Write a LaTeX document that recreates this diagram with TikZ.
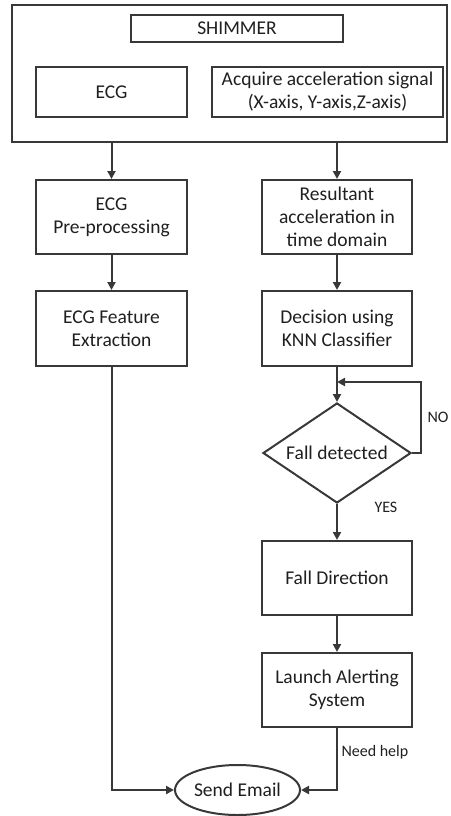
\documentclass[tikz,border=0pt]{standalone}
\usepackage{fontspec}
\setmainfont{Carlito}
\usetikzlibrary{shapes.geometric,arrows.meta}
\begin{document}
\begin{tikzpicture}[x=1pt,y=-1pt,
  every node/.style={font=\fontsize{19.5}{23}\selectfont, text=black!88},
  box/.style={draw=black!78, line width=2pt, rectangle, align=center, inner sep=2pt},
  dec/.style={draw=black!78, line width=2pt, diamond, aspect=1.5, inner sep=0pt, align=center},
  oval/.style={draw=black!78, line width=2pt, ellipse, inner sep=0pt},
  arr/.style={draw=black!78, line width=2pt, -{Triangle[length=8pt,width=8pt]}},
  lbl/.style={font=\fontsize{16}{18}\selectfont}]
\useasboundingbox (0,0) rectangle (450,816);

% sensor unit
\node[box, minimum width=435pt, minimum height=137pt] (frame) at (229.5,73.5) {};
\node[box, minimum width=212pt, minimum height=27pt] (shimmer) at (237,28.5) {SHIMMER};
\node[box, minimum width=151pt, minimum height=50pt] (ecg) at (111.5,92) {ECG};
\node[box, minimum width=231pt, minimum height=50pt] (acq) at (327.5,92)
  {Acquire acceleration signal\\(X-axis, Y-axis,Z-axis)};

% ECG branch
\node[box, minimum width=151pt, minimum height=74pt] (pre) at (111.5,217) {ECG\\Pre-processing};
\node[box, minimum width=151pt, minimum height=75pt] (feat) at (111.5,328.5) {ECG Feature\\Extraction};

% acceleration branch
\node[box, minimum width=150pt, minimum height=74pt] (res) at (337,217)
  {Resultant\\acceleration in\\time domain};
\node[box, minimum width=150pt, minimum height=75pt] (knn) at (337,328.5)
  {Decision using\\KNN Classifier};
\node[dec, minimum width=148pt, minimum height=100pt] (fall) at (337,453) {Fall detected};
\node[box, minimum width=150pt, minimum height=74pt] (dir) at (337,578) {Fall Direction};
\node[box, minimum width=150pt, minimum height=74pt] (alert) at (337,690)
  {Launch Alerting\\System};
\node[oval, minimum width=125pt, minimum height=50pt] (mail) at (237.5,790) {Send Email};

% connectors
\draw[arr] (frame.south -| pre) -- (pre);
\draw[arr] (frame.south -| res) -- (res);
\draw[arr] (pre) -- (feat);
\draw[arr] (res) -- (knn);
\draw[arr] (knn) -- (fall);
\coordinate (loop) at (421,382);
\draw[arr] (fall.east) -| (loop) -- (knn.south |- loop);
\node[lbl, anchor=west] (no) at (424,417) {NO};
\draw[arr] (fall) -- (dir);
\node[lbl, anchor=west] (yes) at (371,507) {YES};
\draw[arr] (dir) -- (alert);
\draw[arr] (feat.south) |- (mail.west);
\draw[arr] (alert.south) |- (mail.east);
\node[lbl, anchor=west] (help) at (338,752) {Need help};
\end{tikzpicture}
\end{document}
